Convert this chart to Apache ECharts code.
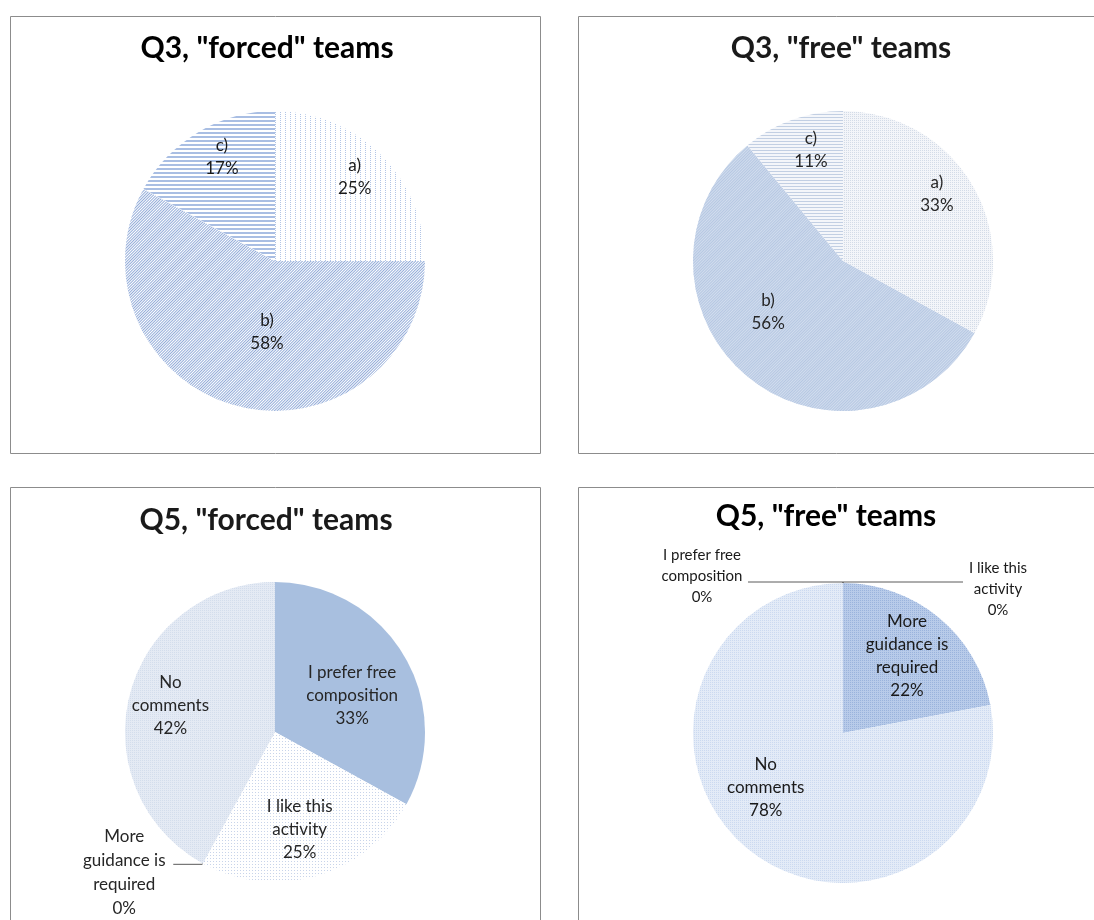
<!DOCTYPE html>
<html>
<head>
<meta charset="utf-8">
<script src="https://cdn.jsdelivr.net/npm/echarts@6/dist/echarts.min.js"></script>
<style>
html,body{margin:0;padding:0;background:#ffffff;}
#chart{width:1094px;height:920px;}
</style>
</head>
<body>
<div id="chart"></div>
<script>
// ---------- data ----------
const q3Categories = ['a)', 'b)', 'c)'];
const q3ForcedValues = [25, 58, 17];
const q3FreeValues = [33, 56, 11];
const q5Categories = ['I prefer free composition', 'I like this activity', 'More guidance is required', 'No comments'];
const q5LabelText = ['I prefer free\ncomposition', 'I like this\nactivity', 'More\nguidance is\nrequired', 'No\ncomments'];
const q5ForcedValues = [33, 25, 0, 42];
const q5FreeValues = [0, 0, 22, 78];
const chartTitles = ['Q3, "forced" teams', 'Q3, "free" teams', 'Q5, "forced" teams', 'Q5, "free" teams'];

// ---------- styles ----------
const FONT = 'Lato, "Open Sans", sans-serif';
const TEXT = '#1a1a1a';
const RADIUS = 150;

function dots(color, gx, gy) {
  return { symbol: 'rect', symbolSize: 1, color: color, dashArrayX: [1, gx], dashArrayY: [1, gy], rotation: 0 };
}
function stripes(color, on, off, rot) {
  return { symbol: 'rect', symbolSize: 1, color: color, dashArrayX: [1, 0], dashArrayY: [on, off], rotation: rot };
}

function wrapRich(text) {
  return text.split('\n').map(function (l) { return '{w|' + l + '}'; }).join('\n');
}

function makeLabelLayout(values, center, startDeg, tweaks) {
  const sum = values.reduce(function (a, b) { return a + b; }, 0);
  return function (params) {
    const i = params.dataIndex;
    const tw = tweaks[i];
    if (!tw) return {};
    let before = 0;
    for (let k = 0; k < i; k++) before += values[k];
    const mid = (90 - startDeg) + (before + values[i] / 2) / sum * 360 + tw[1];
    const t = mid * Math.PI / 180;
    return {
      x: center[0] + tw[0] * RADIUS * Math.sin(t),
      y: center[1] - tw[0] * RADIUS * Math.cos(t),
      align: 'center',
      verticalAlign: 'middle'
    };
  };
}

const panels = [
  {
    center: [275, 261], startAngle: 90, minAngle: 0, color: TEXT, fontSize: 17,
    names: q3Categories, labels: q3Categories, values: q3ForcedValues,
    fills: ['#ffffff', '#ffffff', '#ffffff'],
    decals: [dots('#b2c5e6', 4, 1), stripes('#93acd9', 1, 1, -Math.PI / 4), stripes('#a9bee3', 2, 2, 0)],
    tweaks: [[0.77, -1.4], [0.476, -8], [0.78, 3.6]],
    outside: {}
  },
  {
    center: [843, 261], startAngle: 90, minAngle: 0, color: '#262626', fontSize: 17,
    names: q3Categories, labels: q3Categories, values: q3FreeValues,
    fills: ['#f3f5f9', '#d2ddee', '#f4f6fa'],
    decals: [dots('#d3dbe7', 1, 1), stripes('#b5c7e2', 1, 1, -Math.PI / 4), stripes('#c2cfe3', 1, 2, 0)],
    tweaks: [[0.77, -5], [0.605, 16], [0.77, 3.7]],
    outside: {}
  },
  {
    center: [275, 732], startAngle: 90, minAngle: 0, color: '#262626', fontSize: 17,
    names: q5Categories, labels: q5LabelText, values: q5ForcedValues,
    fills: ['#a8bfdf', '#ffffff', '#dde5f1', '#e4eaf4'],
    decals: [null, dots('#c8d4ea', 2, 2), null, dots('#d3ddec', 1, 1)],
    tweaks: [[0.57, 5], [0.67, 2], null, [0.72, 0]],
    outside: {
      2: { width: 92, fontSize: 17, lineHeight: 24, padding: [17, 0, 0, 0], length: 1, length2: 29 }
    }
  },
  {
    center: [843, 733], startAngle: 90.01, minAngle: 0.01, color: TEXT, fontSize: 17,
    names: q5Categories, labels: q5LabelText, values: q5FreeValues,
    fills: ['#b8cbe9', '#b8cbe9', '#b8cbe9', '#e3ebf7'],
    decals: [null, null, dots('#9ab3dc', 1, 1), dots('#cbd9f0', 1, 1)],
    tweaks: [null, null, [0.67, 0], [0.63, 15.3]],
    outside: {
      0: { width: 86, fontSize: 15, lineHeight: 21, padding: [0, 0, 12, 0], length: 1, length2: 95 },
      1: { width: 64, fontSize: 15, lineHeight: 21, padding: [14, 0, 0, 0], length: 1, length2: 120 }
    }
  }
];

const series = panels.map(function (p) {
  const data = p.values.map(function (v, i) {
    const item = {
      name: p.names[i],
      value: v,
      itemStyle: { color: p.fills[i] }
    };
    if (p.decals[i]) item.itemStyle.decal = p.decals[i];
    const o = p.outside[i];
    if (o) {
      const txt = p.labels[i] + '\n' + v + '%';
      item.label = {
        position: 'outside',
        formatter: wrapRich(txt),
        padding: o.padding,
        distanceToLabelLine: 3,
        rich: { w: { width: o.width, align: 'center', fontSize: o.fontSize, lineHeight: o.lineHeight, color: p.color, fontFamily: FONT } }
      };
      item.labelLine = { show: true, length: o.length, length2: o.length2, smooth: false, lineStyle: { color: '#5a5a5a', width: 1 } };
    } else {
      item.label = { formatter: p.labels[i] + '\n' + v + '%' };
    }
    return item;
  });
  return {
    type: 'pie',
    center: p.center,
    radius: [0, RADIUS],
    startAngle: p.startAngle,
    minAngle: p.minAngle,
    clockwise: true,
    avoidLabelOverlap: false,
    silent: true,
    itemStyle: { borderWidth: 0 },
    label: {
      show: true,
      position: 'inside',
      color: p.color,
      fontFamily: FONT,
      fontSize: p.fontSize,
      lineHeight: 23,
      align: 'center'
    },
    labelLine: { show: false },
    labelLayout: makeLabelLayout(p.values, p.center, p.startAngle, p.tweaks),
    data: data
  };
});

const frameStyle = { fill: 'none', stroke: '#8c8c8c', lineWidth: 1 };
const graphic = [
  { type: 'rect', shape: { x: 10.5, y: 16.5, width: 530, height: 437 }, style: frameStyle, silent: true },
  { type: 'rect', shape: { x: 578.5, y: 16.5, width: 540, height: 437 }, style: frameStyle, silent: true },
  { type: 'rect', shape: { x: 10.5, y: 487.5, width: 530, height: 460 }, style: frameStyle, silent: true },
  { type: 'rect', shape: { x: 578.5, y: 487.5, width: 540, height: 460 }, style: frameStyle, silent: true }
];
const titlePos = [[267, 48], [841, 48], [266, 520], [826, 516]];
chartTitles.forEach(function (t, i) {
  graphic.push({
    type: 'text', x: titlePos[i][0], y: titlePos[i][1], silent: true,
    style: { text: t, font: 'bold 30px ' + FONT, fill: i === 0 || i === 3 ? '#000000' : '#1a1a1a', textAlign: 'center', textVerticalAlign: 'middle' }
  });
});

const chart = echarts.init(document.getElementById('chart'), null, { renderer: 'canvas' });
chart.setOption({
  animation: false,
  backgroundColor: '#ffffff',
  textStyle: { fontFamily: FONT },
  graphic: graphic,
  series: series
});
</script>
</body>
</html>
